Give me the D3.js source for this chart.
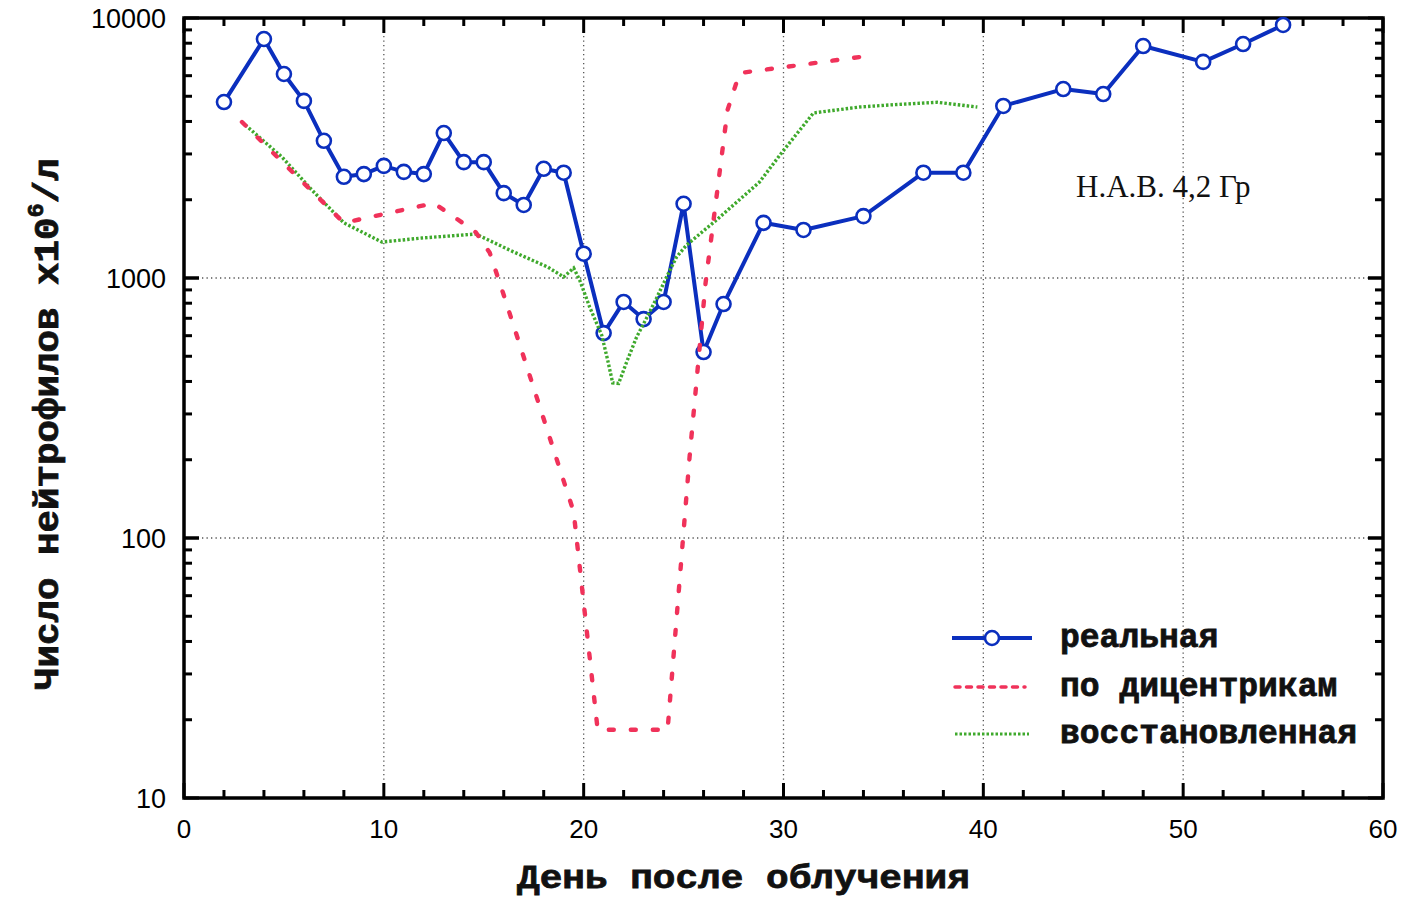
<!DOCTYPE html>
<html><head><meta charset="utf-8">
<script src="https://cdn.jsdelivr.net/npm/d3@7"></script>
<style>body{margin:0;background:#fff}</style>
</head><body><svg id="c" width="1406" height="900"></svg>
<script>
// ---- data ----
const realDays   = [2,4,5,6,7,8,9,10,11,12,13,14,15,16,17,18,19,20,21,22,23,24,25,26,27,29,31,34,37,39,41,44,46,48,51,53,55];
const realValues = [4750,8300,6090,4800,3370,2450,2510,2700,2560,2510,3610,2790,2790,2120,1910,2630,2540,1240,614,809,695,809,1930,519,794,1630,1530,1730,2540,2540,4590,5330,5100,7800,6780,7940,9400];

const dicDays   = [2.9,8,12.5,13.6,14.6,15.3,16,19.5,20.7,24.2,25.3,26.1,27.2,27.8,34.6];
const dicValues = [3980,1630,1940,1700,1500,1250,860,126,18.3,18.3,205,957,4430,6140,7210];

const recDays   = [2.9,4.9,6.4,8,9.9,11.9,14.6,16.5,18.2,19,19.5,19.8,20.3,20.9,21.2,21.45,21.75,22.15,22.65,23.15,23.65,24.15,24.65,25.15,26.65,28.8,29.9,31.5,33.8,35.5,37.7,39.7];
const recValues = [3980,2920,2180,1630,1375,1425,1476,1259,1102,1009,1093,982,773,604,484,395,393,475,593,702,838,1009,1205,1339,1672,2340,3026,4314,4545,4640,4740,4545];

const xTicks = [0,10,20,30,40,50,60];
const yTicks = [10,100,1000,10000];
const legendLabels = ["реальная","по дицентрикам","восстановленная"];
const xTitle = "День после облучения";
const yTitleMain = "Число нейтрофилов х10";
const yTitleSup = "6";
const yTitleEnd = "/л";
const note = "Н.А.В. 4,2 Гр";

// ---- layout ----
const L = 184, R = 1383, T = 18, B = 798;
const svg = d3.select("#c");
const x = d3.scaleLinear().domain([0,60]).range([L,R]);
const y = d3.scaleLog().domain([10,10000]).range([B,T]);

const blue = "#0b2fbe", red = "#f0325a", green = "#3fa92c";

// grid
const grid = svg.append("g").attr("stroke","#555").attr("stroke-width",1.3).attr("stroke-dasharray","1.3,3.2");
[10,20,30,40,50].forEach(d => grid.append("line").attr("x1",x(d)).attr("x2",x(d)).attr("y1",T).attr("y2",B));
[100,1000].forEach(d => grid.append("line").attr("x1",L).attr("x2",R).attr("y1",y(d)).attr("y2",y(d)));

// ticks
const tk = svg.append("g").attr("stroke","#000").attr("stroke-width",3);
d3.range(0,61,2).forEach(d => {
  const len = d % 10 === 0 ? 15 : 8;
  tk.append("line").attr("x1",x(d)).attr("x2",x(d)).attr("y1",B).attr("y2",B-len);
  tk.append("line").attr("x1",x(d)).attr("x2",x(d)).attr("y1",T).attr("y2",T+len);
});
[10,100,1000].forEach(dec => {
  for (let m=1;m<=10;m++){
    const v = dec*m; const len = (m===1||m===10) ? 15 : 8;
    tk.append("line").attr("x1",L).attr("x2",L+len).attr("y1",y(v)).attr("y2",y(v));
    tk.append("line").attr("x1",R).attr("x2",R-len).attr("y1",y(v)).attr("y2",y(v));
  }
});

// frame
svg.append("rect").attr("x",L).attr("y",T).attr("width",R-L).attr("height",B-T)
  .attr("fill","none").attr("stroke","#000").attr("stroke-width",3.5);

// axis labels
svg.append("g").selectAll("text").data(xTicks).join("text")
  .attr("x",d=>x(d)).attr("y",838).attr("text-anchor","middle")
  .attr("font-family","Liberation Sans, Arial, sans-serif").attr("font-size",26)
  .text(d=>d);
svg.append("g").selectAll("text").data(yTicks).join("text")
  .attr("x",166).attr("y",d=>y(d)+10).attr("text-anchor","end")
  .attr("font-family","Liberation Sans, Arial, sans-serif").attr("font-size",27)
  .text(d=>d);

// series
const line = (xs,vs) => d3.line().x((d,i)=>x(xs[i])).y((d,i)=>y(vs[i]))(vs);
svg.append("path").attr("d",line(realDays,realValues)).attr("fill","none")
  .attr("stroke",blue).attr("stroke-width",4).attr("stroke-linejoin","round");
svg.append("g").selectAll("circle").data(realValues).join("circle")
  .attr("cx",(d,i)=>x(realDays[i])).attr("cy",d=>y(d)).attr("r",7)
  .attr("fill","#fff").attr("stroke",blue).attr("stroke-width",2.6);
svg.append("path").attr("d",line(recDays,recValues)).attr("fill","none")
  .attr("stroke",green).attr("stroke-width",3.4).attr("stroke-dasharray","2.5,2");
svg.append("path").attr("d",line(dicDays,dicValues)).attr("fill","none")
  .attr("stroke",red).attr("stroke-width",4.4).attr("stroke-dasharray","5,17").attr("stroke-linecap","round");

// annotation
svg.append("text").attr("x",1076).attr("y",197).attr("font-family","Liberation Serif, Times New Roman, serif")
  .attr("font-size",31).attr("fill","#111").text(note);

// legend
const lg = svg.append("g");
const lgY = [638,687,734];
lg.append("line").attr("x1",952).attr("x2",1032).attr("y1",lgY[0]).attr("y2",lgY[0]).attr("stroke",blue).attr("stroke-width",4);
lg.append("circle").attr("cx",992).attr("cy",lgY[0]).attr("r",7).attr("fill","#fff").attr("stroke",blue).attr("stroke-width",2.6);
lg.append("line").attr("x1",955).attr("x2",1025).attr("y1",lgY[1]).attr("y2",lgY[1]).attr("stroke",red).attr("stroke-width",3.5).attr("stroke-dasharray","5,6.5").attr("stroke-linecap","round");
lg.append("line").attr("x1",955).attr("x2",1029).attr("y1",lgY[2]).attr("y2",lgY[2]).attr("stroke",green).attr("stroke-width",3).attr("stroke-dasharray","2.5,2");
lg.selectAll("text").data(legendLabels).join("text")
  .attr("x",1060).attr("y",(d,i)=>lgY[i]+9)
  .attr("font-family","Liberation Mono, Courier New, monospace").attr("font-weight","bold")
  .attr("font-size",33).attr("fill","#111").attr("stroke","#111").attr("stroke-width",0.8)
  .text(d=>d);

// x title
const xt = svg.append("text").attr("font-family","Liberation Mono, Courier New, monospace")
  .attr("font-weight","bold").attr("font-size",33).attr("fill","#111").attr("stroke","#111").attr("stroke-width",0.8)
  .attr("x",517).attr("y",888).text(xTitle);
{ const w = xt.node().getComputedTextLength(); const s = 453/w;
  xt.attr("transform",`translate(517,0) scale(${s},1) translate(-517,0)`); }

// y title
const yt = svg.append("text").attr("font-family","Liberation Mono, Courier New, monospace")
  .attr("font-weight","bold").attr("font-size",35).attr("fill","#111").attr("stroke","#111").attr("stroke-width",0.8)
  .attr("x",0).attr("y",0);
yt.append("tspan").text(yTitleMain);
yt.append("tspan").attr("font-size",22).attr("dy",-15).text(yTitleSup);
yt.append("tspan").attr("dy",15).text(yTitleEnd);
{ const w = yt.node().getComputedTextLength(); const s = 532/w;
  yt.attr("transform",`translate(58,690) rotate(-90) scale(${s},1)`); }
</script></body></html>
